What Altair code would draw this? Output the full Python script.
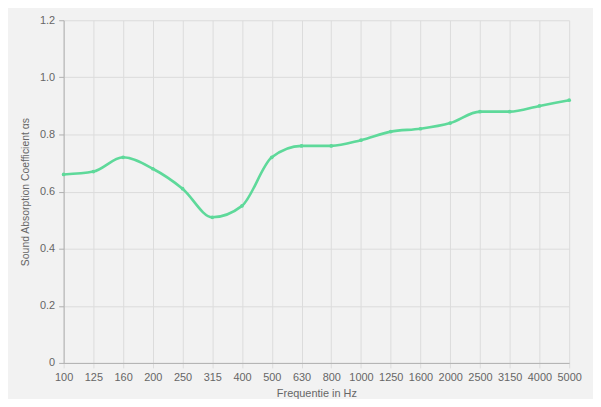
import altair as alt
import pandas as pd

freqs = ["100", "125", "160", "200", "250", "315", "400", "500", "630", "800",
         "1000", "1250", "1600", "2000", "2500", "3150", "4000", "5000"]
alpha = [0.66, 0.67, 0.72, 0.68, 0.61, 0.51, 0.55, 0.72, 0.76, 0.76,
         0.78, 0.81, 0.82, 0.84, 0.88, 0.88, 0.90, 0.92]

df = pd.DataFrame({"freq": freqs, "alpha": alpha})

color = "#5ed99a"

x = alt.X("freq:N", sort=freqs, title="Frequentie in Hz",
          scale=alt.Scale(type="point", padding=0),
          axis=alt.Axis(labelAngle=0, labelFontSize=11, labelColor="#666",
                        titleFontSize=11, titleColor="#666", titleFontWeight="normal",
                        titlePadding=5, labelPadding=4,
                        grid=True, gridColor="#dcdcdc", domainColor="#b0b0b0",
                        tickColor="#dcdcdc", tickSize=5))
y = alt.Y("alpha:Q", title="Sound Absorption Coefficient αs",
          scale=alt.Scale(domain=[0, 1.2]),
          axis=alt.Axis(values=[0, 0.2, 0.4, 0.6, 0.8, 1.0, 1.2],
                        labelExpr="datum.value == 0 ? '0' : format(datum.value, '.1f')",
                        labelFontSize=11, labelColor="#666",
                        titleFontSize=10.5, titleColor="#666", titleFontWeight="normal",
                        titlePadding=9, labelPadding=4,
                        grid=True, gridColor="#dcdcdc", domainColor="#b0b0b0",
                        tickColor="#b0b0b0", tickSize=5))

base = alt.Chart(df).encode(x=x, y=y)
line = base.mark_line(color=color, strokeWidth=2.6, interpolate="monotone")
pts = base.mark_point(color=color, filled=True, size=14, opacity=1)

chart = (line + pts).properties(
    width=509, height=345,
    background="#f2f2f2",
    padding={"left": 56, "top": 11, "right": 24, "bottom": 35},
    autosize=alt.AutoSizeParams(type="none"),
).configure_view(stroke=None).configure_axis(labelFont="Arial", titleFont="Arial")

chart.save("out.html", embed_options={"renderer": "svg", "actions": False})
